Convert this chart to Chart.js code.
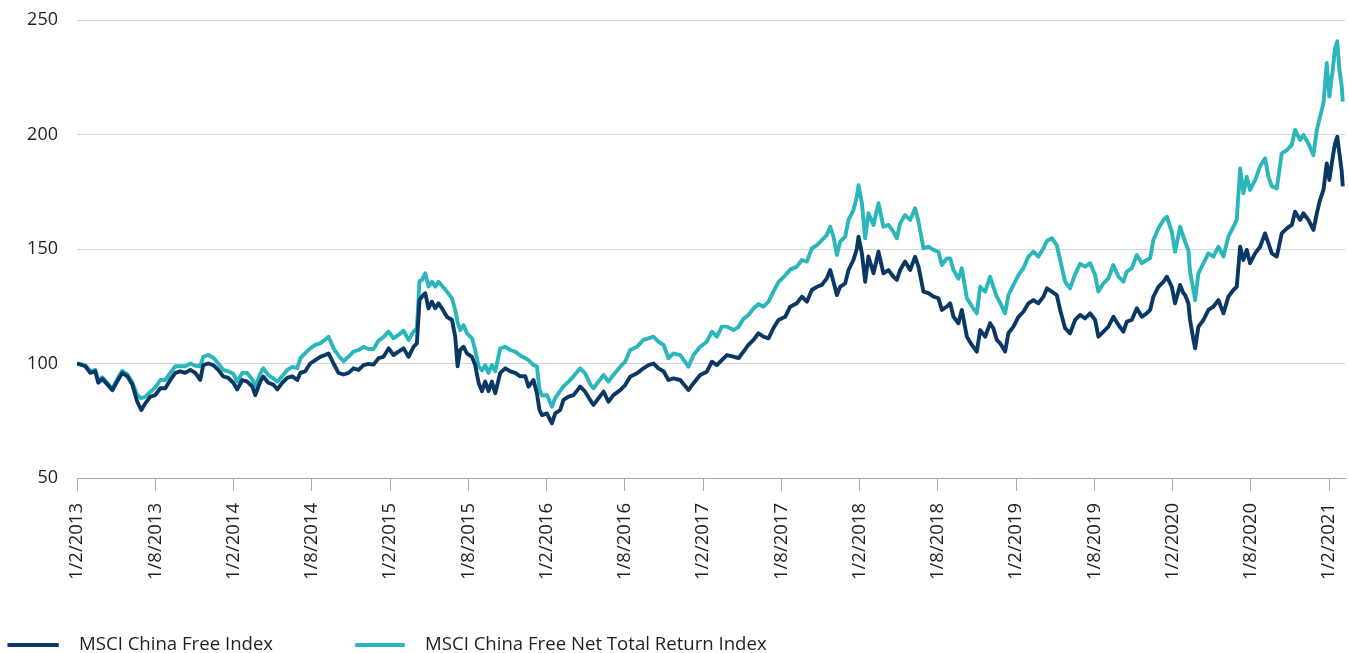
<!DOCTYPE html>
<html>
<head>
<meta charset="utf-8">
<script src="https://cdn.jsdelivr.net/npm/chart.js@4.4.1/dist/chart.umd.min.js"></script>
<style>
  html, body { margin: 0; padding: 0; background: #ffffff; }
  #wrap { width: 1349px; height: 653px; }
  canvas { display: block; }
</style>
</head>
<body>
<div id="wrap"><canvas id="chart" width="1349" height="653"></canvas></div>
<script>
// ---------------- DATA ----------------
const seriesNames = ['MSCI China Free Index', 'MSCI China Free Net Total Return Index'];
const tickMonths = [0, 6, 12, 18, 24, 30, 36, 42, 48, 54, 60, 66, 72, 78, 84, 90, 96];
const tickLabels = ['1/2/2013', '1/8/2013', '1/2/2014', '1/8/2014', '1/2/2015', '1/8/2015',
  '1/2/2016', '1/8/2016', '1/2/2017', '1/8/2017', '1/2/2018', '1/8/2018', '1/2/2019',
  '1/8/2019', '1/2/2020', '1/8/2020', '1/2/2021'];

// months elapsed since 1 Feb 2013
const monthsSinceFeb2013 = [
  0, 0.64, 1.02, 1.40, 1.63, 1.94, 2.33, 2.71, 3.09, 3.47, 3.86, 4.24, 4.62, 4.93, 5.24, 5.62,
  6.00, 6.39, 6.77, 7.15, 7.54, 7.92, 8.30, 8.69, 9.07, 9.45, 9.68, 10.06, 10.45, 10.83, 11.21,
  11.60, 11.98, 12.29, 12.67, 13.05, 13.44, 13.67, 14.05, 14.28, 14.66, 15.05, 15.35, 15.74,
  16.12, 16.50, 16.89,
  17.12, 17.50, 17.88, 18.27, 18.65, 19.03, 19.29, 19.67, 20.05, 20.44, 20.82, 21.20, 21.59,
  21.97, 22.35, 22.74, 23.12, 23.50, 23.89, 24.27, 24.65, 25.04, 25.42, 25.80, 26.06, 26.26,
  26.45, 26.70, 26.95, 27.21, 27.47, 27.72, 27.98, 28.36, 28.75, 29.00, 29.18, 29.38, 29.64,
  29.90, 30.28, 30.53, 30.79, 31.05, 31.30, 31.55, 31.81, 32.07, 32.45, 32.83, 33.22, 33.60,
  33.98, 34.37, 34.62, 35.00, 35.26, 35.46,
  35.65, 36.03, 36.41, 36.67, 37.05, 37.30, 37.69, 38.07, 38.58, 38.96, 39.35, 39.60, 39.98,
  40.37, 40.75, 41.13, 41.65, 42.03, 42.41, 42.93, 43.43, 43.82, 44.20, 44.58, 44.97, 45.35,
  45.73, 46.25, 46.88, 47.27, 47.78, 48.29, 48.68, 49.06, 49.44, 49.83, 50.33, 50.72, 51.10,
  51.48, 51.87, 52.25, 52.63, 53.02,
  53.40, 53.78, 54.30, 54.68, 55.19, 55.58, 55.96, 56.34, 56.73, 57.11, 57.49, 57.75, 58.00,
  58.26, 58.51, 58.90, 59.15, 59.53, 59.79, 59.92, 60.18, 60.43, 60.68, 61.07, 61.45, 61.83,
  62.22, 62.60, 62.86, 63.11, 63.49, 63.88, 64.26, 64.52, 64.90, 65.28, 65.67, 66.05, 66.31,
  66.69, 66.95, 67.20, 67.58, 67.84, 68.23, 68.61, 68.99, 69.25, 69.63,
  70.01, 70.26, 70.52, 70.78, 71.16, 71.41, 71.80, 72.18, 72.56, 72.95, 73.33, 73.71, 74.10,
  74.36, 74.74, 75.12, 75.38, 75.76, 76.14, 76.53, 76.91, 77.29, 77.68, 78.06, 78.31, 78.70,
  79.08, 79.46, 79.85, 80.23, 80.49, 80.87, 81.26, 81.64, 82.02, 82.28, 82.53, 82.91, 83.30,
  83.56, 83.94, 84.19,
  84.58, 84.83, 84.96, 85.21, 85.34, 85.60, 85.73, 85.98, 86.37, 86.75, 87.13, 87.51, 87.90,
  88.28, 88.66, 88.92, 89.18, 89.43, 89.69, 89.94, 90.33, 90.71, 91.09, 91.35, 91.61, 91.99,
  92.37, 92.76, 93.14, 93.39, 93.78, 94.03, 94.41, 94.80, 95.06, 95.31, 95.57, 95.82, 96.02,
  96.28, 96.46, 96.63, 96.79, 96.97, 97.05
];

const chinaFree = [
  100, 98.8, 95.9, 96.6, 91.6, 93.3, 90.8, 88.3, 92.3, 95.9, 94.4, 90.8, 83.3, 79.7, 82.6, 85.5,
  86.2, 89.2, 89.2, 92.8, 95.9, 96.6, 95.9, 97.2, 95.9, 92.8, 99.3, 100, 99.3, 97.2, 94.4,
  93.7, 91.6, 88.7, 92.8, 92.1, 89.9, 86.2, 92.1, 94.3, 91.6, 90.8, 88.7, 91.6,
  93.7, 94.4, 92.8,
  95.9, 96.6, 100, 101.5, 102.9, 103.7, 104.4, 100, 95.9, 95.2, 95.9, 97.9, 97.2,
  99.3, 99.8, 99.5, 102.3, 102.9, 106.6, 103.7, 105.2, 106.6, 102.9, 107.3, 108.8, 127.7,
  129.2, 130.7, 124.1, 127, 124.1, 126.3, 124.1, 120.4, 119, 111.7, 98.8, 105.9, 107.3,
  104.4, 102.9, 99.3, 91.6, 87.9, 92.1, 87.9, 92.1, 87, 95.9, 97.9, 96.6, 95.9,
  94.4, 94.4, 89.9, 92.8, 87, 79.7,
  77.5, 78.2, 73.9, 78.2, 79.7, 84.1, 85.5, 86.2, 89.9, 87.7, 84.1, 81.9, 84.8,
  87.7, 83.3, 86.2, 88.4, 90.6, 94.2, 95.7, 97.9, 99.3, 100, 97.9, 96.6, 92.8,
  93.5, 92.8, 88.4, 91.4, 95.0, 96.4, 100.8, 99.3, 101.5, 103.7, 103, 102.3, 105.2,
  108.1, 110.3, 113.2, 111.7, 111,
  115.5, 119, 120.4, 124.8, 126.3, 129.2, 127, 132.1, 133.5, 134.3, 137.2, 140.8, 135.7,
  129.9, 133.5, 135, 140.8, 145.2, 150, 155.4, 148.1, 135.7, 146.7, 139.4, 148.8, 139.4,
  140.8, 137.9, 136.5, 140.8, 144.5, 140.8, 146.6, 142.3, 131.4, 130.7, 129.2, 128.5, 123.4,
  124.8, 126.3, 120.4, 117.6, 123.4, 111.7, 108.1, 105.2, 114.6, 111.7,
  117.6, 115.4, 110.3, 108.8, 105.2, 113.2, 116.1, 120.4, 122.6, 126.3, 127.7, 126.3, 129.2,
  132.8, 131.4, 129.9, 123.4, 115.4, 113.2, 119, 121.2, 119.7, 121.9, 119, 111.7, 113.9,
  116.1, 120.4, 116.8, 113.9, 118.3, 119, 124.1, 120.4, 121.9, 123.4, 129.2, 133.5, 135.7,
  137.9, 133.5, 126.3,
  134.3, 130.7, 129.9, 126.3, 119, 110.3, 106.6, 116.1, 119, 123.4, 124.8, 127.7, 121.9,
  129.2, 132.1, 133.5, 151, 145.2, 149.6, 143.8, 148.1, 151, 156.8, 152.5, 148.1, 146.7,
  156.8, 159, 160.5, 166.3, 162.7, 165.6, 162.7, 158.3, 165.6, 171.6, 175.8, 187.4, 180.1,
  190.2, 196.1, 199, 191.8, 183.8, 177.3
];

const chinaFreeNetTR = [
  100, 99.3, 96.5, 97.2, 92.3, 94, 91.5, 89, 93.2, 96.8, 95.3, 91.8, 86.2, 84.8, 85.5, 87.7,
  89.5, 92.8, 92.8, 95.9, 98.8, 98.8, 98.8, 100, 99, 98.8, 102.9, 103.7, 102.5, 100, 97.2,
  96.6, 95.5, 92.1, 95.9, 95.9, 93, 89.9, 95.5, 97.9, 95, 93.5, 92.1, 94.5,
  97.2, 98.5, 98.0,
  102.3, 104.5, 106.6, 108.1, 108.8, 110.5, 111.7, 106.6, 103.4, 101, 103, 105.2, 105.9,
  107.3, 106.3, 106.3, 110, 111.5, 113.9, 111, 112.5, 114.3, 110.3, 113.9, 115.4, 136,
  136.5, 139.4, 133.6, 135.7, 133.6, 135.7, 134, 131.4, 128.5, 123.4, 118, 114.6, 116.8,
  113.2, 111, 105.9, 98.8, 97, 99.3, 95.9, 99.3, 96.6, 106.6, 107.3, 105.9, 105.2,
  103.5, 102.3, 101.5, 99.3, 98.8, 88.7,
  86, 86.2, 81.1, 85, 88, 90, 92.1, 94.4, 97.9, 95.7, 91, 89.2, 92.1,
  95, 92.1, 95, 98.6, 100.8, 105.9, 107.3, 110.3, 111, 111.7, 109.5, 108.1, 102.3,
  104.4, 103.7, 98.6, 103.7, 107.3, 109.5, 113.9, 111.7, 116.1, 116.1, 114.6, 116, 119.5,
  121.2, 124, 126, 124.8, 127,
  131.5, 135.5, 138.5, 141, 142.3, 145.2, 144.5, 150.3, 151.7, 153.9, 156.1, 159.7, 155.4,
  147.4, 153.2, 155.4, 162.7, 167, 172.8, 177.9, 170, 154.7, 165.6, 160.5, 170, 159.7,
  160.5, 157.5, 154.7, 161.2, 164.8, 162.7, 167.8, 162, 150.3, 151, 149.6, 148.8, 143,
  145.9, 145.9, 140.8, 137, 141.6, 128.5, 125, 121.9, 133.5, 131.4,
  137.9, 133.5, 129.2, 126.5, 121.9, 129.9, 134.3, 138.6, 141.6, 146.7, 148.8, 146.7, 150.3,
  153.5, 154.7, 151.7, 145.2, 135.7, 132.8, 139, 143.5, 142.3, 143.8, 138.6, 131.4, 135,
  137.2, 143, 137.9, 135.7, 140.1, 141.6, 147.4, 143.8, 145.2, 146, 153.9, 159, 162.7,
  164.1, 157.5, 148.8,
  159.7, 155.4, 153.2, 149.6, 140, 132, 127.7, 139.4, 143.8, 148.1, 146.7, 151, 146.7,
  155.4, 159.7, 162.7, 185.2, 174.3, 181.6, 175.8, 180.1, 186.1, 189.6, 181.6, 177.3, 176.5,
  191.8, 193.2, 195.4, 202, 197.6, 199.8, 196.1, 191, 202, 207.8, 213.7, 231.2, 216.6,
  228.3, 237.8, 240.7, 228.3, 221, 214.4
];

// ---------------- STYLE / LAYOUT ----------------
const NAVY = '#0b3765';
const TEAL = '#2bb6bc';
const FONT = '"Open Sans", "Noto Sans", sans-serif';
const TEXT = '#1f1f1f';

const LEG_FS = 18.6;
const LEG_PAD = 10;
const TEXT1_X = 79, TEXT2_X = 425;
const LINE_RANGES = [[7.5, 59], [355, 405]];
const LEG_TEXT_Y = 644.5;

Chart.defaults.font.family = FONT;

const mctx = document.createElement('canvas').getContext('2d');
mctx.font = LEG_FS + 'px ' + FONT;
const T1 = mctx.measureText(seriesNames[0]).width;
const halfFS = LEG_FS / 2;
const BOXW = (TEXT2_X - TEXT1_X) - T1 - LEG_PAD - halfFS;
const PAD_LEFT = TEXT1_X - halfFS - BOXW - LEG_PAD;
const legendHeightGuess = LEG_PAD * 2 + LEG_FS;
const PAD_BOTTOM = 653 - (LEG_TEXT_Y - LEG_PAD - halfFS + legendHeightGuess);

function makeMarker(color, a, b, c) {
  const half = Math.ceil(Math.max(Math.abs(a - c), Math.abs(b - c)));
  const cv = document.createElement('canvas');
  cv.width = half * 2; cv.height = 4;
  const g = cv.getContext('2d');
  g.fillStyle = color;
  g.fillRect(a - c + half, 0, b - a, 4);
  return cv;
}
const textXs = [TEXT1_X, TEXT2_X];
const markers = [NAVY, TEAL].map((col, i) => {
  const xi = textXs[i] - halfFS - BOXW;
  const ci = xi + BOXW / 2;
  return makeMarker(col, LINE_RANGES[i][0], LINE_RANGES[i][1], ci);
});

const toPoints = (vals) => monthsSinceFeb2013.map((m, i) => ({ x: m, y: vals[i] }));

new Chart(document.getElementById('chart'), {
  type: 'line',
  data: {
    datasets: [
      { label: seriesNames[0], data: toPoints(chinaFree), borderColor: NAVY, backgroundColor: NAVY,
        borderWidth: 3.9, pointRadius: 0, pointHoverRadius: 0, tension: 0, borderJoinStyle: 'round' },
      { label: seriesNames[1], data: toPoints(chinaFreeNetTR), borderColor: TEAL, backgroundColor: TEAL,
        borderWidth: 3.9, pointRadius: 0, pointHoverRadius: 0, tension: 0, borderJoinStyle: 'round' }
    ]
  },
  options: {
    responsive: false,
    animation: false,
    devicePixelRatio: 1,
    layout: { autoPadding: false, padding: { left: PAD_LEFT, right: 4, top: 20, bottom: PAD_BOTTOM } },
    scales: {
      x: {
        type: 'linear', min: 0, max: 97.22,
        afterBuildTicks(s) { s.ticks = tickMonths.map(v => ({ value: v })); },
        afterFit(s) {
          s.height = (653 - PAD_BOTTOM) - s.chart.legend.height - 478;
          s.paddingLeft = 0; s.paddingRight = 0;
        },
        ticks: { autoSkip: false, minRotation: 90, maxRotation: 90, padding: 12, color: TEXT,
          font: { size: 18.5 }, callback: (v, i) => tickLabels[i] },
        grid: { drawOnChartArea: false, drawTicks: true, tickLength: 13, color: '#a9a9a9', lineWidth: 1 },
        border: { display: true, color: '#a9a9a9', width: 1 }
      },
      y: {
        min: 50, max: 250,
        afterFit(s) {
          s.width = 77 - PAD_LEFT;
          s.paddingTop = 0; s.paddingBottom = 0;
        },
        ticks: { stepSize: 50, padding: 19, color: TEXT, font: { size: 18 } },
        grid: { drawTicks: false, lineWidth: 1,
          color: (ctx) => (ctx.tick && ctx.tick.value === 50) ? 'rgba(0,0,0,0)' : '#d6d6d6' },
        border: { display: false }
      }
    },
    plugins: {
      tooltip: { enabled: false },
      legend: {
        position: 'bottom', align: 'start',
        labels: {
          usePointStyle: true, pointStyleWidth: BOXW, padding: LEG_PAD, color: TEXT,
          font: { size: LEG_FS },
          generateLabels(chart) {
            const items = Chart.defaults.plugins.legend.labels.generateLabels(chart);
            items.forEach((it, i) => { it.pointStyle = markers[i]; });
            return items;
          }
        }
      }
    }
  }
});
</script>
</body>
</html>
